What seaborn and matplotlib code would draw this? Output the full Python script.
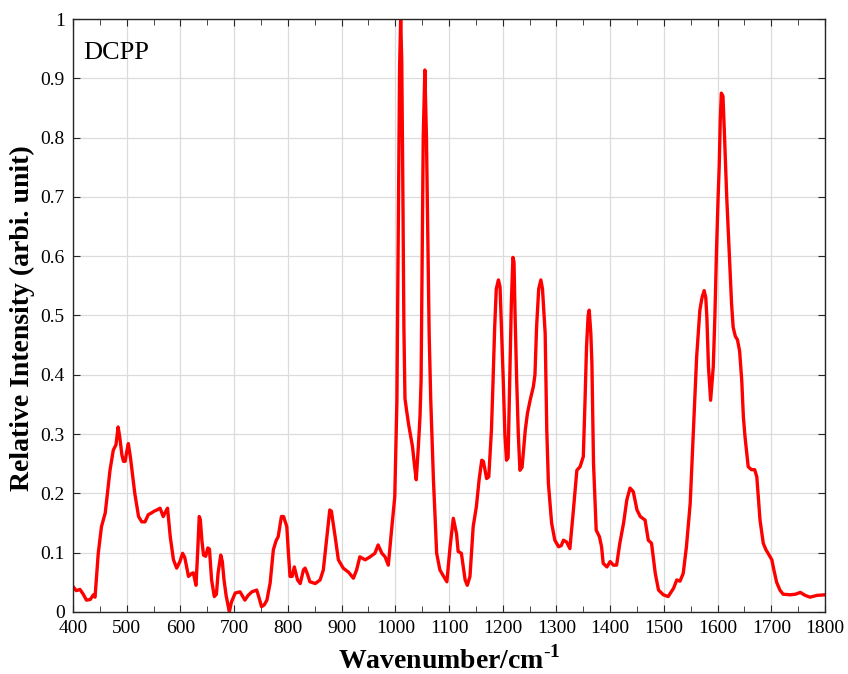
import matplotlib
matplotlib.use("Agg")
import numpy as np
import pandas as pd
import seaborn as sns
import matplotlib.pyplot as plt
from matplotlib.ticker import MultipleLocator, FuncFormatter

# Raman spectrum values
wavenumber = [400, 406, 413, 419, 425, 432, 438, 441, 447, 453, 460, 469, 475, 480, 484, 487, 491, 494, 497, 500,
              503, 507, 511, 515, 522, 528, 534, 540, 546, 551, 556, 562, 568, 571, 576, 581, 587, 593, 599, 604,
              608, 615, 621, 624, 629, 632, 635, 637, 640, 643, 647, 651, 654, 658, 663, 667, 670, 675, 678, 681,
              685, 691, 695, 702, 711, 720, 726, 733, 742, 746, 751, 756, 761, 767, 773, 778, 782, 788, 792, 798,
              801, 804, 808, 812, 818, 823, 829, 832, 836, 841, 851, 860, 866, 872, 878, 881, 888, 894, 903, 913,
              922, 928, 934, 944, 953, 962, 968, 975, 981, 987, 993, 999, 1003, 1006, 1008, 1010, 1012, 1014, 1016, 1018,
              1021, 1025, 1029, 1032, 1036, 1039, 1043, 1046, 1048, 1050, 1052, 1055, 1058, 1061, 1063, 1066, 1071, 1077, 1083, 1090,
              1096, 1102, 1108, 1114, 1117, 1123, 1130, 1134, 1139, 1145, 1151, 1156, 1161, 1164, 1170, 1174, 1179, 1182, 1185, 1188,
              1192, 1195, 1198, 1201, 1204, 1207, 1210, 1213, 1216, 1219, 1221, 1223, 1226, 1229, 1232, 1236, 1242, 1246, 1251, 1257,
              1260, 1263, 1267, 1271, 1274, 1279, 1282, 1285, 1291, 1297, 1304, 1309, 1313, 1319, 1325, 1331, 1338, 1344, 1350, 1353,
              1356, 1359, 1361, 1364, 1366, 1369, 1374, 1380, 1384, 1387, 1394, 1400, 1406, 1412, 1418, 1425, 1431, 1437, 1443, 1450,
              1456, 1465, 1471, 1477, 1484, 1490, 1499, 1508, 1518, 1524, 1530, 1536, 1542, 1549, 1555, 1561, 1564, 1567, 1571, 1575,
              1578, 1580, 1583, 1587, 1590, 1592, 1595, 1598, 1601, 1603, 1605, 1607, 1610, 1613, 1617, 1620, 1623, 1626, 1629, 1633,
              1637, 1641, 1645, 1648, 1651, 1657, 1663, 1669, 1673, 1679, 1685, 1690, 1694, 1701, 1705, 1710, 1716, 1722, 1735, 1745,
              1754, 1763, 1772, 1785, 1800]
intensity = [0.043, 0.036, 0.038, 0.030, 0.020, 0.021, 0.029, 0.025, 0.099, 0.144, 0.167, 0.240, 0.273, 0.282, 0.312, 0.295, 0.265, 0.254, 0.254, 0.270,
             0.284, 0.260, 0.230, 0.200, 0.161, 0.152, 0.152, 0.164, 0.167, 0.170, 0.172, 0.175, 0.161, 0.167, 0.175, 0.127, 0.088, 0.074, 0.085, 0.099,
             0.092, 0.060, 0.065, 0.066, 0.045, 0.100, 0.161, 0.156, 0.120, 0.096, 0.094, 0.108, 0.106, 0.054, 0.026, 0.030, 0.065, 0.096, 0.085, 0.055,
             0.028, 0.000, 0.017, 0.032, 0.034, 0.020, 0.028, 0.034, 0.037, 0.025, 0.009, 0.012, 0.020, 0.049, 0.105, 0.120, 0.127, 0.161, 0.161, 0.144,
             0.100, 0.060, 0.060, 0.076, 0.054, 0.048, 0.071, 0.074, 0.065, 0.051, 0.048, 0.054, 0.071, 0.121, 0.172, 0.170, 0.127, 0.088, 0.074, 0.067,
             0.057, 0.071, 0.093, 0.088, 0.093, 0.099, 0.113, 0.099, 0.093, 0.079, 0.138, 0.194, 0.357, 0.700, 0.920, 1.000, 0.930, 0.720, 0.480, 0.360,
             0.340, 0.315, 0.295, 0.279, 0.245, 0.223, 0.280, 0.330, 0.390, 0.600, 0.800, 0.914, 0.800, 0.600, 0.470, 0.357, 0.223, 0.099, 0.071, 0.060,
             0.051, 0.110, 0.158, 0.132, 0.102, 0.099, 0.054, 0.045, 0.060, 0.144, 0.178, 0.223, 0.256, 0.254, 0.225, 0.228, 0.307, 0.390, 0.480, 0.545,
             0.560, 0.548, 0.470, 0.390, 0.300, 0.256, 0.260, 0.390, 0.520, 0.598, 0.590, 0.500, 0.390, 0.300, 0.239, 0.244, 0.307, 0.335, 0.357, 0.380,
             0.400, 0.480, 0.545, 0.560, 0.545, 0.470, 0.307, 0.217, 0.150, 0.121, 0.110, 0.112, 0.121, 0.118, 0.107, 0.166, 0.239, 0.245, 0.262, 0.350,
             0.447, 0.500, 0.509, 0.470, 0.420, 0.251, 0.138, 0.127, 0.110, 0.082, 0.076, 0.085, 0.079, 0.079, 0.116, 0.150, 0.189, 0.209, 0.203, 0.172,
             0.161, 0.155, 0.121, 0.116, 0.065, 0.037, 0.029, 0.026, 0.040, 0.054, 0.052, 0.065, 0.110, 0.183, 0.307, 0.430, 0.470, 0.509, 0.530, 0.542,
             0.530, 0.498, 0.414, 0.357, 0.390, 0.414, 0.500, 0.610, 0.700, 0.751, 0.830, 0.875, 0.870, 0.800, 0.700, 0.640, 0.580, 0.520, 0.480, 0.465,
             0.459, 0.440, 0.390, 0.329, 0.296, 0.245, 0.240, 0.240, 0.228, 0.155, 0.116, 0.105, 0.099, 0.088, 0.070, 0.050, 0.037, 0.030, 0.029, 0.030,
             0.033, 0.028, 0.025, 0.028, 0.029]

df = pd.DataFrame({"Wavenumber": wavenumber, "Intensity": intensity})

sns.set_style("white")
plt.rcParams['font.family'] = ['Liberation Serif', 'DejaVu Serif']
plt.rcParams['mathtext.fontset'] = 'custom'
plt.rcParams['mathtext.rm'] = 'Liberation Serif'
plt.rcParams['mathtext.bf'] = 'Liberation Serif:bold'
plt.rcParams['text.color'] = 'black'
plt.rcParams['axes.labelcolor'] = 'black'
plt.rcParams['xtick.color'] = 'black'
plt.rcParams['ytick.color'] = 'black'

fig = plt.figure(figsize=(8.48, 6.74), dpi=100)
ax = fig.add_axes([0.0861, 0.092, 0.8868, 0.8798])

sns.lineplot(data=df, x="Wavenumber", y="Intensity", color="red", linewidth=2.4, ax=ax)

ax.set_xlim(400, 1800)
ax.set_ylim(0, 1)
ax.xaxis.set_major_locator(MultipleLocator(100))
ax.xaxis.set_minor_locator(MultipleLocator(50))
ax.yaxis.set_major_locator(MultipleLocator(0.1))
ax.yaxis.set_major_formatter(FuncFormatter(lambda v, p: "%g" % round(v, 1)))

# grid and box like the reference
ax.grid(True, which='major', color='#dcdcdc', linewidth=0.9)
ax.set_axisbelow(True)
for s in ax.spines.values():
    s.set_color('#262626')
    s.set_linewidth(1.0)
ax.tick_params(which='both', direction='in', top=True, right=True, bottom=True, left=True,
               color='#262626', labelcolor='black', labelsize=14)
ax.tick_params(axis='y', pad=6)
ax.tick_params(axis='x', pad=6)
ax.tick_params(which='major', length=5)
ax.tick_params(which='minor', length=4)

ax.set_xlabel('Wavenumber/cm$^{\\mathbf{\\text{-}1}}$', fontsize=20, fontweight='bold', labelpad=6)
ax.set_ylabel('Relative Intensity (arbi. unit)', fontsize=20, fontweight='bold')
ax.yaxis.set_label_coords(-0.05, 0.496)

ax.text(0.013, 0.962, 'DCPP', transform=ax.transAxes, fontsize=19, ha='left', va='top', color='black')

plt.savefig("out.png", dpi=100)
